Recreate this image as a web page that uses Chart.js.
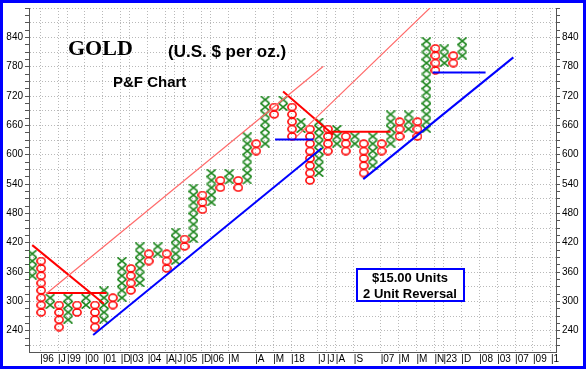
<!DOCTYPE html>
<html>
<head>
<meta charset="utf-8">
<script src="https://cdn.jsdelivr.net/npm/chart.js@4.4.0/dist/chart.umd.min.js"></script>
<style>
  html, body { margin: 0; padding: 0; background: #fff; }
  canvas { display: block; }
</style>
</head>
<body>
<canvas id="myChart" width="586" height="369"></canvas>
<script>
// P&F columns ($15 box, 2 unit reversal): type, lowest box, highest box
var boxSize = 15
var colType = ['X','O','X','O','X','O','X','O','X','O','X','O','X','O','X','O','X','O','X','O','X','O','X','O','X',
               'O','X','O','X','O','X','O','X','O','X','O','X','O','X','O','X','O','X','O','X','O','X','O','X']
var colLow  = [345,270,285,240,255,270,285,240,255,285,300,315,330,375,390,360,375,405,420,480,495,525,540,525,540,
               600,615,675,690,630,645,540,555,600,615,600,615,555,570,600,615,630,645,630,645,765,780,780,795]
var colHigh = [390,375,300,285,300,285,300,285,315,300,375,360,405,390,405,390,435,420,525,510,555,540,555,540,630,
               615,705,690,705,690,660,645,660,645,645,630,630,615,630,615,675,660,675,660,825,810,810,795,825]

// date markers under the columns
var dateCols   = [1,3,4,6,8,10,11,13,15,16,17,19,20,22,25,27,29,32,33,34,36,39,41,43,45,46,48,50,52,54,56,58]
var dateLabels = ['96','J','99','00','01','D','03','04','A','J','05','D','06','M','A','M','18','J','J','A','S','07','M','M','N','23','D','08','03','07','09','1']

// trend lines [column, price]
var channelLow  = [[1.6,316],[32.5,781]]
var channelHigh = [[29.5,637],[44.5,902]]
var resist1 = [[0,415],[8,295]]
var resist2 = [[28,729],[33.6,641]]
var redFlat1 = [[1.6,317],[8.3,317]]
var redFlat2 = [[33.4,647],[40,647]]
var support1 = [[6.8,231],[32.3,613]]
var support2 = [[36.95,550],[53.7,799]]
var blueFlat1 = [[27.1,631],[31.4,631]]
var blueFlat2 = [[44.7,768],[50.6,768]]

var yLabels = [240,300,360,420,480,540,600,660,720,780,840]

var xPoints = []
var oPoints = []
for (var i = 0; i < colType.length; i++) {
	for (var v = colLow[i]; v <= colHigh[i]; v += boxSize) {
		var p = {x: i, y: v + boxSize / 2}
		if (colType[i] == 'X') xPoints.push(p)
		else oPoints.push(p)
	}
}

function makeX() {
	var c = document.createElement('canvas')
	c.width = 10; c.height = 8
	var g = c.getContext('2d')
	g.strokeStyle = '#1d861d'
	g.lineWidth = 1.7
	g.beginPath()
	g.moveTo(0.6, 0.4); g.lineTo(9.4, 7.6)
	g.moveTo(9.4, 0.4); g.lineTo(0.6, 7.6)
	g.stroke()
	return c
}
function makeO() {
	var c = document.createElement('canvas')
	c.width = 10; c.height = 9
	var g = c.getContext('2d')
	g.strokeStyle = '#ff0000'
	g.lineWidth = 1.6
	g.beginPath()
	g.ellipse(5, 4.5, 4.1, 3.5, 0, 0, Math.PI * 2)
	g.stroke()
	return c
}

function toXY(arr) {
	return arr.map(function(a){ return {x: a[0], y: a[1]} })
}
function lineSet(arr, color, width) {
	return {data: toXY(arr), showLine: true, borderColor: color, borderWidth: width,
		pointRadius: 0, fill: false}
}

var grey = '#b9b9b9'
var axisCol = '#555'

function yAxis(pos, width, onArea) {
	return {
		type: 'linear', position: pos, min: 195, max: 900,
		afterBuildTicks: function(s) {
			var t = []
			for (var v = 210; v <= 900; v += boxSize) t.push({value: v})
			s.ticks = t
		},
		ticks: {
			autoSkip: false, padding: 2, color: '#000',
			font: {family: 'Arial, "Liberation Sans"', size: 10},
			callback: function(v) { return yLabels.indexOf(v) >= 0 ? String(v) : '' }
		},
		grid: {
			drawOnChartArea: onArea,
			color: function(c) { return (c.tick && c.tick.value % 30 == 0) ? grey : 'rgba(0,0,0,0)' },
			tickColor: axisCol, tickLength: 4
		},
		border: {color: axisCol, dash: [1, 2]},
		afterFit: function(s) { s.width = width }
	}
}

var decor = {
	id: 'decor',
	afterDatasetsDraw: function(chart) {
		var ctx = chart.ctx
		ctx.save()
		ctx.fillStyle = '#000'
		ctx.textBaseline = 'alphabetic'
		ctx.textAlign = 'left'
		ctx.font = 'bold 22px "Liberation Serif", "Times New Roman", serif'
		ctx.fillText('GOLD', 68, 55)
		ctx.font = 'bold 17px Arial, "Liberation Sans"'
		ctx.fillText('(U.S. $ per oz.)', 168, 57)
		ctx.font = 'bold 15px Arial, "Liberation Sans"'
		ctx.fillText('P&F Chart', 113, 87)

		ctx.fillStyle = '#fff'
		ctx.fillRect(357, 269, 107, 32)
		ctx.strokeStyle = '#0000ff'
		ctx.lineWidth = 2
		ctx.strokeRect(357, 269, 107, 32)
		ctx.fillStyle = '#000'
		ctx.textAlign = 'center'
		ctx.font = 'bold 13px Arial, "Liberation Sans"'
		ctx.fillText('$15.00 Units', 410, 282)
		ctx.fillText('2 Unit Reversal', 410, 298)
		ctx.restore()
	},
	afterDraw: function(chart) {
		var ctx = chart.ctx
		ctx.save()
		ctx.strokeStyle = '#0000ff'
		ctx.lineWidth = 3
		ctx.strokeRect(1.5, 1.5, 583, 366)
		ctx.restore()
	}
}

var mychart = document.getElementById('myChart').getContext('2d')

var chart = new Chart(mychart, {
	type: 'scatter',
	data: {
		datasets: [
			lineSet(channelLow, '#ff6a6a', 1.2),
			lineSet(channelHigh, '#ff6a6a', 1.2),
			lineSet(resist1, '#ff0000', 2),
			lineSet(resist2, '#ff0000', 2),
			lineSet(redFlat1, '#ff0000', 2),
			lineSet(redFlat2, '#ff0000', 2),
			lineSet(support1, '#0000ff', 2),
			lineSet(support2, '#0000ff', 2),
			lineSet(blueFlat1, '#0000ff', 2),
			lineSet(blueFlat2, '#0000ff', 2),
			{data: xPoints, pointStyle: makeX(), pointRadius: 4},
			{data: oPoints, pointStyle: makeO(), pointRadius: 4}
		]
	},
	options: {
		responsive: false,
		animation: false,
		events: [],
		layout: {padding: {top: 8, left: 0, right: 0, bottom: 0}},
		plugins: {legend: {display: false}, tooltip: {enabled: false}},
		scales: {
			x: {
				type: 'linear', min: -0.36, max: 58.46,
				afterBuildTicks: function(s) {
					s.ticks = dateCols.map(function(c){ return {value: c - 0.11} })
				},
				ticks: {
					autoSkip: false, maxRotation: 0, align: 'start', padding: 1, color: '#000',
					font: {family: 'Arial, "Liberation Sans"', size: 10},
					callback: function(v, idx) { return '|' + dateLabels[idx] }
				},
				grid: {color: grey, drawTicks: false},
				border: {color: axisCol, dash: [1, 2]},
				afterFit: function(s) { s.height = 16.3 }
			},
			y: yAxis('left', 29, true),
			y2: yAxis('right', 30, false)
		}
	},
	plugins: [decor]
})
</script>
</body>
</html>
